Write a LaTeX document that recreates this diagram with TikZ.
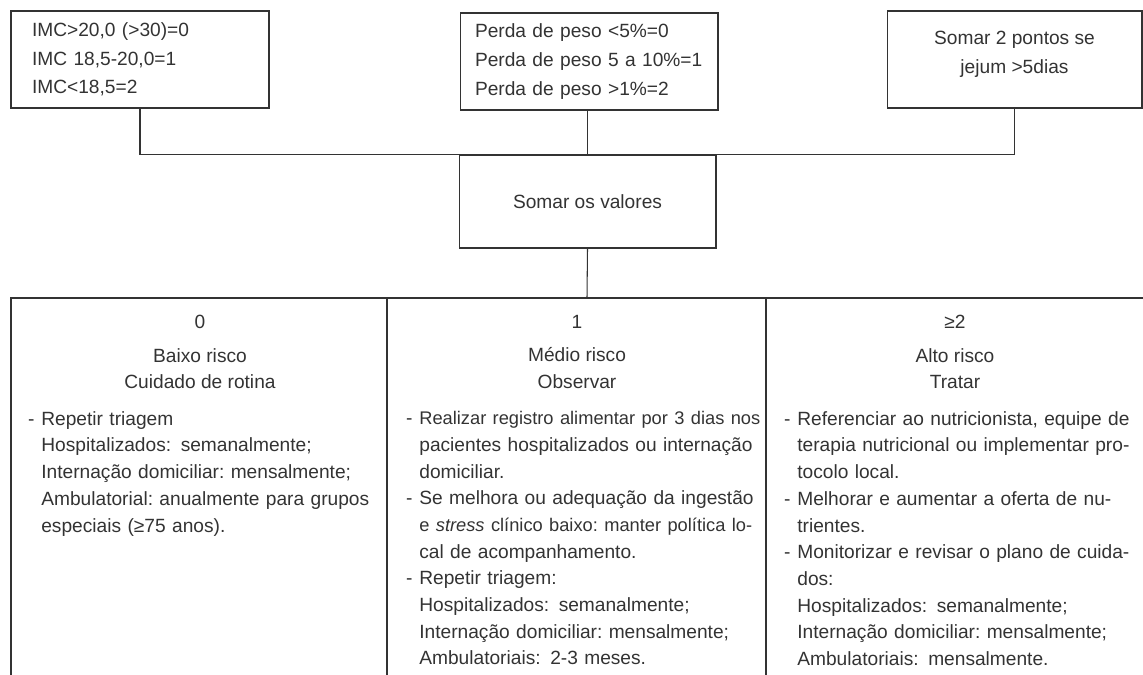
\documentclass[tikz,border=0pt]{standalone}
\usepackage{fontspec}
\setmainfont{Liberation Sans}
\usetikzlibrary{shapes, arrows}
\definecolor{ink}{gray}{0.2}
\newlength\colw
\setlength\colw{6.64cm}
\newcommand{\jl}[1]{\makebox[\colw][s]{#1}}
\newcommand{\tjl}[1]{\makebox[\colw][s]{\fontsize{10.4}{15.2}\selectfont #1}}
\newcommand{\bl}{\leavevmode\llap{-\hspace{0.36em}}}
\tikzstyle{box} = [rectangle, draw=ink, line width=0.6pt, minimum width=5.16cm, minimum height=1.94cm, text=ink, font=\fontsize{10.9}{16.3}\selectfont]
\tikzstyle{line} = [draw=ink, line width=0.6pt]
\tikzstyle{head} = [anchor=north, align=center, inner sep=0pt, text=ink, font=\fontsize{10.9}{15.0}\selectfont]
\tikzstyle{body} = [anchor=north west, text width=6.64cm, align=left, inner sep=0pt, text=ink, font=\fontsize{10.9}{15.2}\selectfont]

\begin{document}
\begin{tikzpicture}[x=0.02cm, y=-0.02cm]
    \useasboundingbox (0,0) rectangle (1143,675);

    \node (imc) [box, inner xsep=0.42cm, text width=4.32cm, align=left] at (140,59.5) {IMC>20,0 (>30)=0\\IMC 18,5-20,0=1\\IMC<18,5=2};
    \node (peso) [box, inner xsep=0.3cm, text width=4.56cm, align=left] at (589,61.5) {Perda de peso <5\%=0\\Perda de peso 5 a 10\%=1\\Perda de peso >1\%=2};
    \node (jejum) [box, minimum width=5.1cm, align=center] at (1014.5,59.5) {Somar 2 pontos se\\jejum >5dias\rule[-0.3cm]{0pt}{1pt}};
    \node (soma) [box, minimum width=5.14cm, minimum height=1.86cm] at (587.5,201.5) {Somar os valores};

    \coordinate (tab) at (587,298);
    \coordinate (tl) at (11,298);
    \coordinate (tr) at (1143,298);
    \coordinate (c1) at (387,298);
    \coordinate (c2) at (766,298);

    \draw [line] (imc.south) -- (imc.south |- soma.north) -- (jejum.south |- soma.north) -- (jejum.south);
    \draw [line] (soma.north |- peso.south) -- (soma.north);
    \draw [line] (soma.south) -- (tab);
    \draw [line] (11,675) -- (tl) -- (tr);
    \draw [line] (c1) -- (387,675);
    \draw [line] (c2) -- (766,675);

    \node (baixo) [head] at (200,315) {0\\[4pt]Baixo risco\\Cuidado de rotina};
    \node (medio) [head] at (577,315) {1\\[4pt]Médio risco\\Observar};
    \node (alto) [head] at (955,315) {≥2\\[4pt]Alto risco\\Tratar};

    \node (txbaixo) [body] at (41,411) {\bl Repetir triagem\\
        Hospitalizados: semanalmente;\\
        Internação domiciliar:\ mensalmente;\\
        \jl{Ambulatorial:\ anualmente para grupos}\\
        especiais (≥75 anos).};
    \node (txmedio) [body] at (419,411) {\bl\tjl{Realizar registro alimentar por 3 dias nos}\\
        \jl{pacientes hospitalizados ou internação}\\
        domiciliar.\\
        \bl\jl{Se melhora ou adequação da ingestão}\\
        \tjl{e \textit{stress} clínico baixo:\ manter política lo-}\\
        cal de acompanhamento.\\
        \bl Repetir triagem:\\
        Hospitalizados: semanalmente;\\
        Internação domiciliar:\ mensalmente;\\
        Ambulatoriais: 2-3 meses.};
    \node (txalto) [body] at (797,411) {\bl\jl{Referenciar ao nutricionista, equipe de}\\
        \jl{terapia nutricional ou implementar pro-}\\
        tocolo local.\\
        \bl\jl{Melhorar e aumentar a oferta de nu-}\\
        trientes.\\
        \bl\jl{Monitorizar e revisar o plano de cuida-}\\
        dos:\\
        Hospitalizados: semanalmente;\\
        Internação domiciliar:\ mensalmente;\\
        Ambulatoriais: mensalmente.};
\end{tikzpicture}
\end{document}
